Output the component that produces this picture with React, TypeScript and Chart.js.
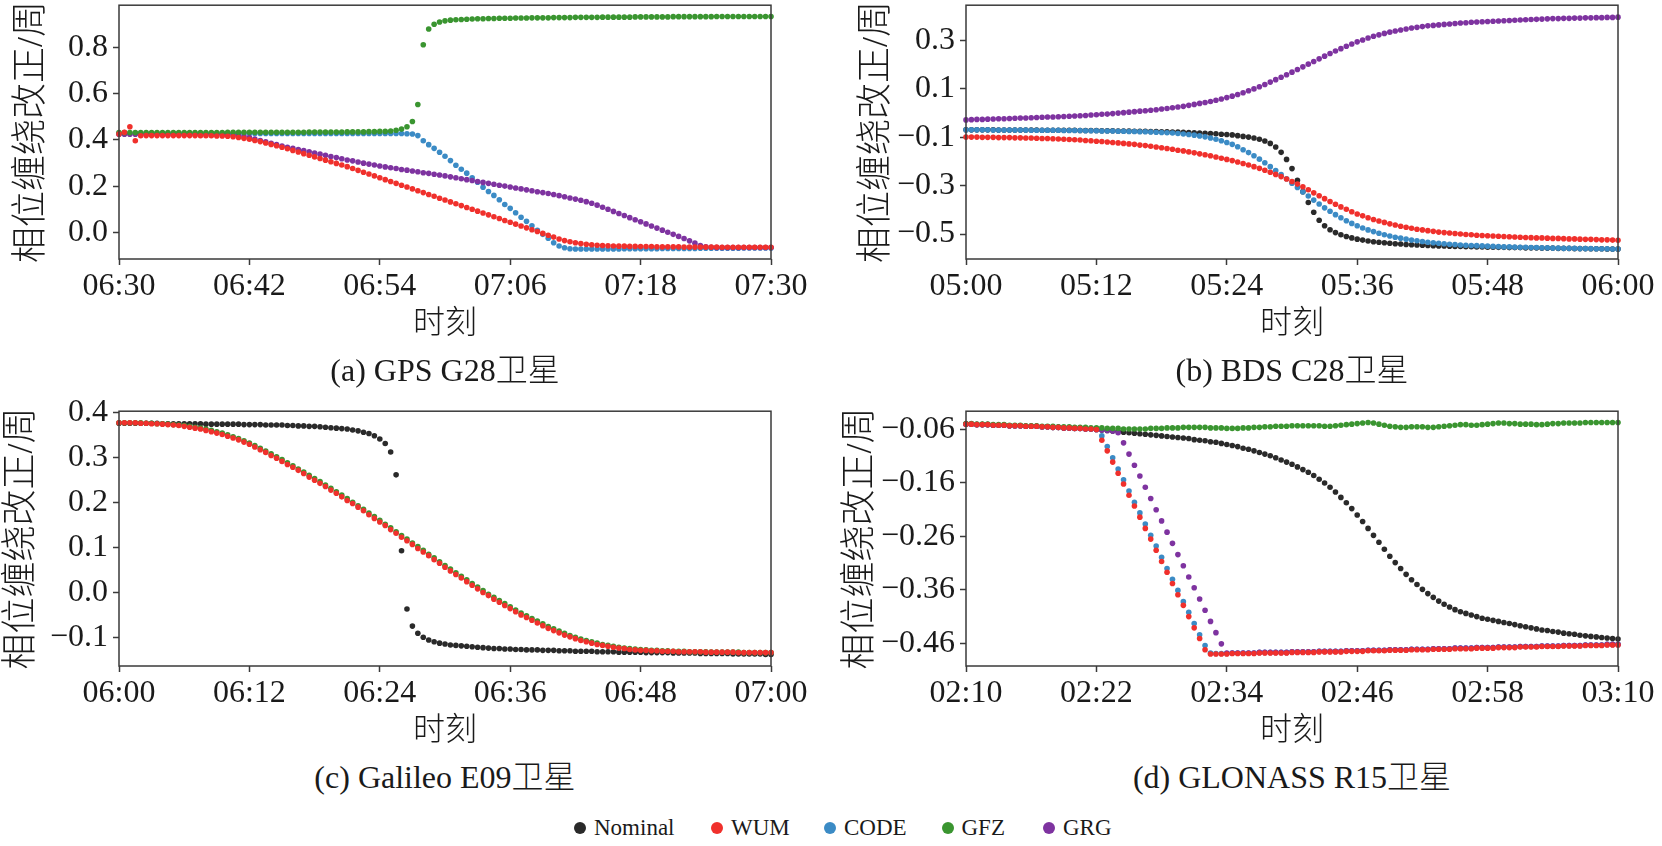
import React, { useEffect, useRef } from "react";
import { Chart, registerables } from "chart.js";

Chart.register(...registerables);

// ---------------- data ----------------
const SERIES = ["Nominal", "WUM", "CODE", "GFZ", "GRG"];
const COLORS = ["#2a2a2a", "#f0302c", "#3b8bc5", "#3a9530", "#7e33a0"];
// lower value = drawn on top
const DRAW_ORDER = [4, 0, 3, 1, 2];
const STEP_MIN = 0.5; // 30 s sampling, x in minutes from panel start

const X_TICKS = [0, 12, 24, 36, 48, 60];
const X_LABELS_A = ["06:30", "06:42", "06:54", "07:06", "07:18", "07:30"];
const X_LABELS_B = ["05:00", "05:12", "05:24", "05:36", "05:48", "06:00"];
const X_LABELS_C = ["06:00", "06:12", "06:24", "06:36", "06:48", "07:00"];
const X_LABELS_D = ["02:10", "02:22", "02:34", "02:46", "02:58", "03:10"];

const Y_TICKS_A = [0.0, 0.2, 0.4, 0.6, 0.8];
const Y_LABELS_A = ["0.0", "0.2", "0.4", "0.6", "0.8"];
const Y_TICKS_B = [-0.5, -0.3, -0.1, 0.1, 0.3];
const Y_LABELS_B = ["\u22120.5", "\u22120.3", "\u22120.1", "0.1", "0.3"];
const Y_TICKS_C = [-0.1, 0.0, 0.1, 0.2, 0.3, 0.4];
const Y_LABELS_C = ["\u22120.1", "0.0", "0.1", "0.2", "0.3", "0.4"];
const Y_TICKS_D = [-0.46, -0.36, -0.26, -0.16, -0.06];
const Y_LABELS_D = ["\u22120.46", "\u22120.36", "\u22120.26", "\u22120.16", "\u22120.06"];

// (a) GPS G28
const A_WUM = [
  0.426, 0.433, 0.457, 0.397, 0.418, 0.419, 0.419, 0.419, 0.419, 0.419,
  0.419, 0.419, 0.419, 0.419, 0.419, 0.418, 0.418, 0.418, 0.417, 0.417,
  0.416, 0.414, 0.411, 0.407, 0.403, 0.398, 0.393, 0.387, 0.381, 0.375,
  0.369, 0.362, 0.355, 0.348, 0.341, 0.334, 0.327, 0.320, 0.313, 0.306,
  0.299, 0.292, 0.285, 0.277, 0.269, 0.261, 0.253, 0.245, 0.237, 0.229,
  0.221, 0.213, 0.205, 0.197, 0.189, 0.181, 0.173, 0.165, 0.157, 0.149,
  0.141, 0.133, 0.125, 0.117, 0.109, 0.101, 0.093, 0.085, 0.077, 0.069,
  0.061, 0.053, 0.045, 0.037, 0.029, 0.021, 0.013, 0.005, -0.003, -0.011,
  -0.019, -0.027, -0.034, -0.039, -0.043, -0.047, -0.050, -0.052, -0.054, -0.055,
  -0.056, -0.057, -0.058, -0.058, -0.059, -0.059, -0.060, -0.060, -0.060, -0.061,
  -0.061, -0.061, -0.061, -0.061, -0.062, -0.062, -0.062, -0.062, -0.062, -0.062,
  -0.062, -0.063, -0.063, -0.063, -0.063, -0.063, -0.063, -0.063, -0.063, -0.063,
  -0.063,
];
const A_CODE = [
  0.428, 0.428, 0.428, 0.428, 0.428, 0.428, 0.428, 0.428, 0.428, 0.428,
  0.428, 0.428, 0.428, 0.428, 0.428, 0.428, 0.428, 0.428, 0.428, 0.428,
  0.428, 0.428, 0.428, 0.428, 0.428, 0.428, 0.428, 0.428, 0.428, 0.428,
  0.428, 0.428, 0.428, 0.428, 0.428, 0.428, 0.428, 0.428, 0.428, 0.428,
  0.428, 0.428, 0.428, 0.428, 0.428, 0.428, 0.428, 0.428, 0.428, 0.428,
  0.428, 0.428, 0.428, 0.427, 0.426, 0.419, 0.397, 0.380, 0.364, 0.347,
  0.330, 0.311, 0.291, 0.274, 0.257, 0.237, 0.218, 0.196, 0.178, 0.161,
  0.142, 0.122, 0.105, 0.086, 0.067, 0.049, 0.030, 0.010, -0.007, -0.024,
  -0.043, -0.057, -0.065, -0.069, -0.070, -0.070, -0.070, -0.070, -0.070, -0.070,
  -0.070, -0.070, -0.070, -0.069, -0.069, -0.069, -0.069, -0.069, -0.069, -0.069,
  -0.068, -0.068, -0.068, -0.068, -0.068, -0.068, -0.068, -0.067, -0.067, -0.067,
  -0.067, -0.067, -0.067, -0.067, -0.067, -0.066, -0.066, -0.066, -0.066, -0.066,
  -0.066,
];
const A_GFZ = [
  0.432, 0.432, 0.432, 0.432, 0.432, 0.432, 0.432, 0.432, 0.432, 0.432,
  0.432, 0.432, 0.432, 0.432, 0.432, 0.432, 0.432, 0.432, 0.432, 0.432,
  0.433, 0.433, 0.433, 0.433, 0.433, 0.433, 0.433, 0.433, 0.433, 0.433,
  0.433, 0.433, 0.433, 0.433, 0.433, 0.434, 0.434, 0.434, 0.434, 0.434,
  0.434, 0.434, 0.435, 0.435, 0.435, 0.435, 0.436, 0.436, 0.437, 0.437,
  0.439, 0.442, 0.447, 0.457, 0.480, 0.553, 0.811, 0.879, 0.899, 0.909,
  0.914, 0.917, 0.919, 0.920, 0.921, 0.922, 0.923, 0.923, 0.924, 0.924,
  0.925, 0.925, 0.925, 0.926, 0.926, 0.926, 0.927, 0.927, 0.927, 0.927,
  0.928, 0.928, 0.928, 0.928, 0.929, 0.929, 0.929, 0.929, 0.929, 0.930,
  0.930, 0.930, 0.930, 0.930, 0.930, 0.931, 0.931, 0.931, 0.931, 0.931,
  0.931, 0.931, 0.932, 0.932, 0.932, 0.932, 0.932, 0.932, 0.932, 0.932,
  0.933, 0.933, 0.933, 0.933, 0.933, 0.933, 0.933, 0.933, 0.933, 0.933,
  0.933,
];
const A_GRG = [
  0.425, 0.425, 0.425, 0.425, 0.425, 0.425, 0.425, 0.425, 0.425, 0.425,
  0.425, 0.425, 0.425, 0.425, 0.425, 0.425, 0.425, 0.425, 0.425, 0.425,
  0.424, 0.422, 0.419, 0.415, 0.410, 0.404, 0.398, 0.392, 0.386, 0.380,
  0.374, 0.369, 0.364, 0.359, 0.354, 0.349, 0.344, 0.339, 0.334, 0.329,
  0.324, 0.319, 0.314, 0.310, 0.305, 0.300, 0.296, 0.292, 0.288, 0.284,
  0.280, 0.277, 0.273, 0.270, 0.266, 0.263, 0.259, 0.256, 0.252, 0.249,
  0.245, 0.241, 0.237, 0.233, 0.229, 0.225, 0.221, 0.217, 0.213, 0.209,
  0.205, 0.201, 0.197, 0.193, 0.189, 0.185, 0.181, 0.177, 0.173, 0.169,
  0.165, 0.160, 0.155, 0.150, 0.145, 0.140, 0.134, 0.127, 0.119, 0.110,
  0.101, 0.092, 0.083, 0.074, 0.065, 0.056, 0.047, 0.038, 0.029, 0.020,
  0.011, 0.002, -0.007, -0.016, -0.025, -0.035, -0.045, -0.055, -0.061, -0.063,
  -0.064, -0.064, -0.064, -0.064, -0.064, -0.064, -0.064, -0.064, -0.064, -0.064,
  -0.064,
];

// (b) BDS C28
const B_NOM = [
  -0.070, -0.070, -0.070, -0.070, -0.070, -0.070, -0.071, -0.071, -0.071, -0.071,
  -0.071, -0.071, -0.071, -0.071, -0.072, -0.072, -0.072, -0.072, -0.072, -0.072,
  -0.072, -0.073, -0.073, -0.073, -0.073, -0.074, -0.074, -0.074, -0.075, -0.075,
  -0.075, -0.076, -0.076, -0.076, -0.077, -0.077, -0.078, -0.078, -0.079, -0.079,
  -0.080, -0.081, -0.082, -0.083, -0.084, -0.085, -0.086, -0.088, -0.089, -0.091,
  -0.094, -0.097, -0.100, -0.104, -0.109, -0.116, -0.126, -0.141, -0.163, -0.192,
  -0.230, -0.278, -0.325, -0.370, -0.410, -0.443, -0.466, -0.482, -0.494, -0.503,
  -0.510, -0.516, -0.521, -0.525, -0.529, -0.532, -0.534, -0.536, -0.538, -0.540,
  -0.541, -0.543, -0.544, -0.545, -0.546, -0.547, -0.548, -0.549, -0.549, -0.550,
  -0.551, -0.551, -0.552, -0.552, -0.553, -0.553, -0.554, -0.554, -0.555, -0.555,
  -0.556, -0.556, -0.556, -0.557, -0.557, -0.557, -0.558, -0.558, -0.558, -0.559,
  -0.559, -0.559, -0.560, -0.560, -0.560, -0.561, -0.561, -0.561, -0.562, -0.562,
  -0.562,
];
const B_WUM = [
  -0.100, -0.100, -0.100, -0.101, -0.101, -0.101, -0.102, -0.102, -0.102, -0.103,
  -0.103, -0.104, -0.104, -0.105, -0.106, -0.106, -0.107, -0.108, -0.109, -0.110,
  -0.111, -0.112, -0.114, -0.115, -0.117, -0.118, -0.120, -0.122, -0.124, -0.126,
  -0.128, -0.130, -0.133, -0.135, -0.138, -0.141, -0.144, -0.147, -0.150, -0.154,
  -0.157, -0.161, -0.165, -0.169, -0.173, -0.177, -0.182, -0.187, -0.192, -0.197,
  -0.203, -0.209, -0.215, -0.222, -0.229, -0.237, -0.245, -0.254, -0.263, -0.273,
  -0.283, -0.294, -0.305, -0.317, -0.330, -0.342, -0.354, -0.366, -0.377, -0.388,
  -0.398, -0.408, -0.417, -0.425, -0.433, -0.440, -0.446, -0.452, -0.458, -0.463,
  -0.468, -0.472, -0.476, -0.480, -0.483, -0.486, -0.489, -0.492, -0.494, -0.496,
  -0.498, -0.500, -0.502, -0.503, -0.505, -0.506, -0.507, -0.508, -0.509, -0.510,
  -0.511, -0.512, -0.513, -0.514, -0.515, -0.516, -0.516, -0.517, -0.518, -0.518,
  -0.519, -0.520, -0.520, -0.521, -0.522, -0.522, -0.523, -0.524, -0.524, -0.525,
  -0.526,
];
const B_CODE = [
  -0.070, -0.070, -0.070, -0.070, -0.070, -0.071, -0.071, -0.071, -0.071, -0.071,
  -0.071, -0.071, -0.072, -0.072, -0.072, -0.072, -0.072, -0.072, -0.073, -0.073,
  -0.073, -0.073, -0.074, -0.074, -0.074, -0.075, -0.075, -0.075, -0.076, -0.076,
  -0.077, -0.077, -0.078, -0.078, -0.079, -0.080, -0.081, -0.082, -0.083, -0.085,
  -0.087, -0.089, -0.092, -0.095, -0.099, -0.104, -0.109, -0.115, -0.122, -0.130,
  -0.140, -0.152, -0.164, -0.177, -0.191, -0.206, -0.222, -0.238, -0.255, -0.272,
  -0.290, -0.308, -0.326, -0.343, -0.360, -0.376, -0.392, -0.406, -0.420, -0.433,
  -0.445, -0.456, -0.466, -0.475, -0.483, -0.490, -0.497, -0.503, -0.508, -0.513,
  -0.517, -0.521, -0.525, -0.528, -0.531, -0.534, -0.536, -0.538, -0.540, -0.542,
  -0.543, -0.545, -0.546, -0.547, -0.548, -0.549, -0.550, -0.551, -0.552, -0.553,
  -0.553, -0.554, -0.555, -0.555, -0.556, -0.556, -0.557, -0.557, -0.558, -0.558,
  -0.559, -0.559, -0.559, -0.560, -0.560, -0.560, -0.561, -0.561, -0.561, -0.562,
  -0.562,
];
const B_GRG = [
  -0.029, -0.028, -0.027, -0.027, -0.026, -0.025, -0.024, -0.024, -0.023, -0.022,
  -0.021, -0.021, -0.020, -0.019, -0.018, -0.017, -0.017, -0.016, -0.015, -0.014,
  -0.013, -0.012, -0.011, -0.009, -0.008, -0.006, -0.005, -0.003, -0.001, 0.001,
  0.003, 0.005, 0.007, 0.009, 0.011, 0.013, 0.016, 0.018, 0.021, 0.024,
  0.027, 0.031, 0.035, 0.039, 0.043, 0.047, 0.052, 0.057, 0.063, 0.069,
  0.076, 0.083, 0.091, 0.099, 0.108, 0.117, 0.127, 0.137, 0.147, 0.157,
  0.168, 0.179, 0.190, 0.201, 0.212, 0.223, 0.234, 0.245, 0.255, 0.265,
  0.275, 0.284, 0.293, 0.301, 0.309, 0.316, 0.322, 0.328, 0.333, 0.338,
  0.342, 0.346, 0.350, 0.353, 0.356, 0.359, 0.361, 0.363, 0.365, 0.367,
  0.369, 0.371, 0.372, 0.374, 0.375, 0.376, 0.377, 0.378, 0.379, 0.380,
  0.381, 0.382, 0.383, 0.384, 0.385, 0.386, 0.387, 0.388, 0.389, 0.389,
  0.390, 0.390, 0.391, 0.391, 0.392, 0.392, 0.393, 0.393, 0.394, 0.394,
  0.395,
];

// (c) Galileo E09
const C_NOM = [
  0.377, 0.377, 0.377, 0.377, 0.377, 0.377, 0.377, 0.377, 0.376, 0.376,
  0.376, 0.376, 0.376, 0.376, 0.376, 0.376, 0.375, 0.375, 0.375, 0.375,
  0.375, 0.375, 0.375, 0.374, 0.374, 0.374, 0.374, 0.373, 0.373, 0.373,
  0.373, 0.372, 0.372, 0.371, 0.371, 0.370, 0.370, 0.369, 0.368, 0.367,
  0.366, 0.365, 0.364, 0.362, 0.360, 0.357, 0.354, 0.349, 0.342, 0.332,
  0.313, 0.262, 0.093, -0.037, -0.075, -0.091, -0.100, -0.106, -0.110, -0.113,
  -0.115, -0.117, -0.118, -0.119, -0.120, -0.121, -0.122, -0.123, -0.124, -0.125,
  -0.125, -0.126, -0.126, -0.127, -0.127, -0.128, -0.128, -0.128, -0.129, -0.129,
  -0.129, -0.130, -0.130, -0.130, -0.131, -0.131, -0.131, -0.131, -0.132, -0.132,
  -0.132, -0.132, -0.133, -0.133, -0.133, -0.133, -0.133, -0.134, -0.134, -0.134,
  -0.134, -0.134, -0.135, -0.135, -0.135, -0.135, -0.135, -0.136, -0.136, -0.136,
  -0.136, -0.136, -0.136, -0.137, -0.137, -0.137, -0.137, -0.137, -0.137, -0.138,
  -0.138,
];
const C_WUM = [
  0.378, 0.378, 0.378, 0.378, 0.377, 0.377, 0.376, 0.376, 0.375, 0.374,
  0.373, 0.372, 0.370, 0.368, 0.366, 0.364, 0.361, 0.358, 0.355, 0.352,
  0.348, 0.344, 0.340, 0.335, 0.330, 0.324, 0.318, 0.312, 0.305, 0.299,
  0.292, 0.285, 0.279, 0.272, 0.265, 0.257, 0.250, 0.243, 0.236, 0.228,
  0.221, 0.213, 0.205, 0.198, 0.190, 0.182, 0.173, 0.165, 0.157, 0.149,
  0.140, 0.132, 0.123, 0.115, 0.107, 0.098, 0.090, 0.082, 0.073, 0.065,
  0.056, 0.048, 0.040, 0.032, 0.024, 0.016, 0.008, 0.000, -0.007, -0.015,
  -0.022, -0.029, -0.036, -0.043, -0.050, -0.056, -0.062, -0.068, -0.074, -0.080,
  -0.085, -0.090, -0.095, -0.099, -0.103, -0.107, -0.110, -0.113, -0.116, -0.118,
  -0.120, -0.122, -0.124, -0.125, -0.127, -0.128, -0.129, -0.129, -0.130, -0.130,
  -0.131, -0.131, -0.131, -0.132, -0.132, -0.132, -0.132, -0.132, -0.133, -0.133,
  -0.133, -0.133, -0.133, -0.133, -0.134, -0.134, -0.134, -0.134, -0.134, -0.134,
  -0.134,
];
const C_GFZ = [
  0.378, 0.378, 0.378, 0.378, 0.378, 0.377, 0.377, 0.376, 0.376, 0.375,
  0.374, 0.373, 0.372, 0.370, 0.368, 0.366, 0.364, 0.361, 0.358, 0.355,
  0.351, 0.347, 0.343, 0.338, 0.333, 0.327, 0.321, 0.315, 0.309, 0.302,
  0.296, 0.289, 0.282, 0.275, 0.268, 0.261, 0.254, 0.247, 0.239, 0.232,
  0.224, 0.217, 0.209, 0.201, 0.193, 0.185, 0.177, 0.169, 0.161, 0.152,
  0.144, 0.135, 0.127, 0.119, 0.110, 0.102, 0.094, 0.085, 0.077, 0.068,
  0.060, 0.052, 0.044, 0.036, 0.028, 0.020, 0.012, 0.004, -0.004, -0.011,
  -0.018, -0.025, -0.032, -0.039, -0.046, -0.052, -0.058, -0.064, -0.070, -0.076,
  -0.081, -0.086, -0.091, -0.096, -0.100, -0.104, -0.107, -0.110, -0.113, -0.116,
  -0.118, -0.120, -0.122, -0.124, -0.125, -0.126, -0.127, -0.128, -0.129, -0.129,
  -0.130, -0.130, -0.131, -0.131, -0.131, -0.132, -0.132, -0.132, -0.132, -0.133,
  -0.133, -0.133, -0.133, -0.133, -0.133, -0.134, -0.134, -0.134, -0.134, -0.134,
  -0.134,
];

// (d) GLONASS R15
const D_NOM = [
  -0.050, -0.050, -0.051, -0.051, -0.051, -0.052, -0.052, -0.052, -0.053, -0.053,
  -0.053, -0.054, -0.054, -0.054, -0.055, -0.055, -0.056, -0.056, -0.057, -0.057,
  -0.058, -0.058, -0.059, -0.059, -0.060, -0.061, -0.062, -0.063, -0.064, -0.065,
  -0.066, -0.067, -0.068, -0.069, -0.070, -0.071, -0.072, -0.073, -0.074, -0.075,
  -0.076, -0.077, -0.079, -0.080, -0.081, -0.083, -0.084, -0.086, -0.088, -0.090,
  -0.092, -0.095, -0.097, -0.100, -0.103, -0.106, -0.109, -0.113, -0.117, -0.121,
  -0.125, -0.130, -0.135, -0.140, -0.146, -0.153, -0.160, -0.168, -0.177, -0.187,
  -0.197, -0.208, -0.220, -0.232, -0.245, -0.258, -0.271, -0.284, -0.297, -0.309,
  -0.320, -0.331, -0.341, -0.350, -0.359, -0.367, -0.374, -0.381, -0.387, -0.392,
  -0.397, -0.401, -0.404, -0.407, -0.410, -0.413, -0.415, -0.417, -0.419, -0.421,
  -0.423, -0.425, -0.427, -0.429, -0.431, -0.433, -0.435, -0.436, -0.438, -0.439,
  -0.441, -0.442, -0.443, -0.445, -0.446, -0.447, -0.448, -0.449, -0.450, -0.451,
  -0.452,
];
const D_WUM = [
  -0.050, -0.050, -0.051, -0.051, -0.051, -0.052, -0.052, -0.052, -0.053, -0.053,
  -0.053, -0.054, -0.054, -0.054, -0.055, -0.055, -0.056, -0.056, -0.057, -0.057,
  -0.058, -0.058, -0.059, -0.059, -0.060, -0.080, -0.100, -0.121, -0.142, -0.162,
  -0.183, -0.203, -0.224, -0.245, -0.265, -0.286, -0.307, -0.327, -0.348, -0.369,
  -0.389, -0.410, -0.431, -0.451, -0.472, -0.480, -0.480, -0.480, -0.480, -0.479,
  -0.479, -0.479, -0.479, -0.479, -0.478, -0.478, -0.478, -0.478, -0.478, -0.478,
  -0.477, -0.477, -0.477, -0.477, -0.477, -0.476, -0.476, -0.476, -0.476, -0.476,
  -0.475, -0.475, -0.475, -0.475, -0.474, -0.474, -0.474, -0.474, -0.473, -0.473,
  -0.473, -0.473, -0.472, -0.472, -0.472, -0.472, -0.471, -0.471, -0.471, -0.471,
  -0.470, -0.470, -0.470, -0.470, -0.469, -0.469, -0.469, -0.469, -0.468, -0.468,
  -0.468, -0.468, -0.467, -0.467, -0.467, -0.467, -0.466, -0.466, -0.466, -0.466,
  -0.465, -0.465, -0.465, -0.465, -0.464, -0.464, -0.464, -0.464, -0.463, -0.463,
  -0.463,
];
const D_CODE = [
  -0.050, -0.050, -0.051, -0.051, -0.051, -0.052, -0.052, -0.052, -0.053, -0.053,
  -0.053, -0.054, -0.054, -0.054, -0.055, -0.055, -0.056, -0.056, -0.057, -0.057,
  -0.058, -0.058, -0.059, -0.059, -0.060, -0.072, -0.092, -0.113, -0.134, -0.154,
  -0.175, -0.196, -0.216, -0.237, -0.258, -0.278, -0.299, -0.320, -0.340, -0.361,
  -0.382, -0.402, -0.423, -0.444, -0.464, -0.478, -0.479, -0.479, -0.479, -0.478,
  -0.478, -0.478, -0.478, -0.478, -0.477, -0.477, -0.477, -0.477, -0.477, -0.477,
  -0.476, -0.476, -0.476, -0.476, -0.476, -0.475, -0.475, -0.475, -0.475, -0.475,
  -0.474, -0.474, -0.474, -0.474, -0.473, -0.473, -0.473, -0.473, -0.472, -0.472,
  -0.472, -0.472, -0.471, -0.471, -0.471, -0.471, -0.470, -0.470, -0.470, -0.470,
  -0.469, -0.469, -0.469, -0.469, -0.468, -0.468, -0.468, -0.468, -0.467, -0.467,
  -0.467, -0.467, -0.466, -0.466, -0.466, -0.466, -0.465, -0.465, -0.465, -0.465,
  -0.464, -0.464, -0.464, -0.464, -0.463, -0.463, -0.463, -0.463, -0.462, -0.462,
  -0.462,
];
const D_GFZ = [
  -0.049, -0.049, -0.050, -0.050, -0.050, -0.051, -0.051, -0.051, -0.052, -0.052,
  -0.052, -0.053, -0.053, -0.053, -0.054, -0.054, -0.054, -0.055, -0.055, -0.055,
  -0.056, -0.056, -0.056, -0.057, -0.057, -0.057, -0.058, -0.058, -0.058, -0.059,
  -0.059, -0.059, -0.059, -0.059, -0.058, -0.058, -0.058, -0.057, -0.057, -0.057,
  -0.056, -0.056, -0.056, -0.056, -0.056, -0.057, -0.057, -0.057, -0.058, -0.058,
  -0.058, -0.057, -0.057, -0.056, -0.056, -0.055, -0.055, -0.054, -0.054, -0.054,
  -0.053, -0.053, -0.053, -0.053, -0.053, -0.053, -0.054, -0.054, -0.053, -0.052,
  -0.051, -0.050, -0.049, -0.048, -0.047, -0.048, -0.050, -0.052, -0.054, -0.055,
  -0.056, -0.056, -0.055, -0.055, -0.055, -0.056, -0.056, -0.055, -0.054, -0.053,
  -0.052, -0.051, -0.051, -0.052, -0.052, -0.051, -0.050, -0.049, -0.048, -0.048,
  -0.049, -0.049, -0.050, -0.050, -0.050, -0.051, -0.051, -0.050, -0.049, -0.049,
  -0.048, -0.048, -0.048, -0.048, -0.047, -0.047, -0.047, -0.047, -0.047, -0.047,
  -0.047,
];
const D_GRG = [
  -0.050, -0.050, -0.051, -0.051, -0.051, -0.052, -0.052, -0.052, -0.053, -0.053,
  -0.053, -0.054, -0.054, -0.054, -0.055, -0.055, -0.056, -0.056, -0.057, -0.057,
  -0.058, -0.058, -0.059, -0.059, -0.060, -0.061, -0.062, -0.063, -0.066, -0.085,
  -0.106, -0.127, -0.147, -0.168, -0.189, -0.210, -0.231, -0.252, -0.273, -0.294,
  -0.315, -0.336, -0.356, -0.377, -0.398, -0.419, -0.440, -0.461, -0.478, -0.478,
  -0.478, -0.478, -0.478, -0.478, -0.477, -0.477, -0.477, -0.477, -0.477, -0.477,
  -0.476, -0.476, -0.476, -0.476, -0.476, -0.475, -0.475, -0.475, -0.475, -0.475,
  -0.474, -0.474, -0.474, -0.474, -0.473, -0.473, -0.473, -0.473, -0.472, -0.472,
  -0.472, -0.472, -0.471, -0.471, -0.471, -0.471, -0.470, -0.470, -0.470, -0.470,
  -0.469, -0.469, -0.469, -0.469, -0.468, -0.468, -0.468, -0.468, -0.467, -0.467,
  -0.467, -0.467, -0.466, -0.466, -0.466, -0.466, -0.465, -0.465, -0.465, -0.465,
  -0.464, -0.464, -0.464, -0.464, -0.463, -0.463, -0.463, -0.463, -0.462, -0.462,
  -0.462,
];

// ---------------- styling / layout ----------------
const LATIN = "'Liberation Serif', 'Noto Sans CJK SC Light', 'Noto Sans CJK SC', serif";
const TEXT_COLOR = "#1a1a1a";
const AXIS_COLOR = "#3a3a3a";
const Y_TITLE = "相位缠绕改正/周";
const X_TITLE = "时刻";
const PAD_TOP = 24;
const PAD_RIGHT = 44;
const X_AXIS_H = 90;
const PLOT_W = 652;

type PanelDef = {
  data: (number[] | null)[];
  xLabels: string[];
  yTicks: number[];
  yLabels: string[];
  yMin: number;
  yMax: number;
  caption: string;
  left: number; // canvas left
  yAxisW: number;
  plotTop: number;
  plotH: number;
  yTitlePad: number;
};

const PANELS: PanelDef[] = [
  {
    data: [null, A_WUM, A_CODE, A_GFZ, A_GRG],
    xLabels: X_LABELS_A, yTicks: Y_TICKS_A, yLabels: Y_LABELS_A,
    yMin: -0.1134, yMax: 0.9815, caption: "(a) GPS G28卫星",
    left: 0, yAxisW: 119, plotTop: 5, plotH: 254, yTitlePad: 11.4,
  },
  {
    data: [B_NOM, B_WUM, B_CODE, null, B_GRG],
    xLabels: X_LABELS_B, yTicks: Y_TICKS_B, yLabels: Y_LABELS_B,
    yMin: -0.603, yMax: 0.4443, caption: "(b) BDS C28卫星",
    left: 847, yAxisW: 119, plotTop: 5, plotH: 254, yTitlePad: 9.4,
  },
  {
    data: [C_NOM, C_WUM, null, C_GFZ, null],
    xLabels: X_LABELS_C, yTicks: Y_TICKS_C, yLabels: Y_LABELS_C,
    yMin: -0.1639, yMax: 0.4038, caption: "(c) Galileo E09卫星",
    left: 0, yAxisW: 119, plotTop: 411, plotH: 255, yTitlePad: 1.4,
  },
  {
    data: [D_NOM, D_WUM, D_CODE, D_GFZ, D_GRG],
    xLabels: X_LABELS_D, yTicks: Y_TICKS_D, yLabels: Y_LABELS_D,
    yMin: -0.5024, yMax: -0.0258, caption: "(d) GLONASS R15卫星",
    left: 836, yAxisW: 130, plotTop: 411, plotH: 255, yTitlePad: 4.4,
  },
];

const framePlugin = {
  id: "frame",
  afterDraw(chart: any) {
    const { ctx, chartArea: a } = chart;
    ctx.save();
    ctx.strokeStyle = AXIS_COLOR;
    ctx.lineWidth = 1.5;
    ctx.strokeRect(a.left, a.top, a.right - a.left, a.bottom - a.top);
    ctx.restore();
  },
};

function Panel({ p }: { p: PanelDef }) {
  const ref = useRef<HTMLCanvasElement>(null);
  const w = p.yAxisW + PLOT_W + PAD_RIGHT;
  const h = PAD_TOP + p.plotH + X_AXIS_H;

  useEffect(() => {
    const canvas = ref.current;
    if (!canvas) return;
    const datasets = SERIES.map((name, s) => ({
      label: name,
      data: (p.data[s] || []).map((v, i) => ({ x: i * STEP_MIN, y: v })),
      backgroundColor: COLORS[s],
      borderColor: COLORS[s],
      borderWidth: 0,
      pointRadius: 2.8,
      pointHoverRadius: 2.8,
      order: DRAW_ORDER[s],
      clip: false as any,
    }));
    const tickFont = { family: LATIN, size: 32 };
    const chart = new Chart(canvas, {
      type: "scatter",
      data: { datasets },
      plugins: [framePlugin],
      options: {
        responsive: false,
        animation: false,
        events: [],
        layout: { padding: { top: PAD_TOP, right: PAD_RIGHT, left: 0, bottom: 0 } },
        plugins: { legend: { display: false }, tooltip: { enabled: false }, title: { display: false } },
        scales: {
          x: {
            type: "linear",
            min: 0,
            max: 60,
            afterBuildTicks: (sc: any) => {
              sc.ticks = X_TICKS.map((v) => ({ value: v }));
            },
            afterFit: (sc: any) => {
              sc.height = X_AXIS_H;
            },
            ticks: {
              autoSkip: false,
              maxRotation: 0,
              padding: 2,
              color: TEXT_COLOR,
              font: tickFont,
              callback: (_v: any, i: number) => p.xLabels[i],
            },
            grid: { drawOnChartArea: false, drawTicks: true, tickLength: 6, tickWidth: 1.5, tickColor: AXIS_COLOR, color: AXIS_COLOR },
            border: { display: false },
            title: {
              display: true,
              text: X_TITLE,
              color: TEXT_COLOR,
              font: { family: LATIN, size: 32 },
              padding: { top: 0, bottom: 4.8 },
            },
          },
          y: {
            type: "linear",
            min: p.yMin,
            max: p.yMax,
            afterBuildTicks: (sc: any) => {
              sc.ticks = p.yTicks.map((v) => ({ value: v }));
            },
            afterFit: (sc: any) => {
              sc.width = p.yAxisW;
            },
            ticks: {
              autoSkip: false,
              padding: 5,
              color: TEXT_COLOR,
              font: tickFont,
              callback: (_v: any, i: number) => p.yLabels[i],
            },
            grid: { drawOnChartArea: false, drawTicks: true, tickLength: 6, tickWidth: 1.5, tickColor: AXIS_COLOR, color: AXIS_COLOR },
            border: { display: false },
            title: {
              display: true,
              text: Y_TITLE,
              color: TEXT_COLOR,
              font: { family: LATIN, size: 36 },
              padding: { top: p.yTitlePad, bottom: 0 },
            },
          },
        },
      } as any,
    });
    return () => chart.destroy();
  }, [p]);

  return (
    <canvas
      ref={ref}
      width={w}
      height={h}
      style={{ position: "absolute", left: p.left, top: p.plotTop - PAD_TOP, width: w, height: h }}
    />
  );
}

function Caption({ p }: { p: PanelDef }) {
  const cx = p.left + p.yAxisW + PLOT_W / 2;
  const cy = p.plotTop + p.plotH + 111;
  return (
    <div
      style={{
        position: "absolute",
        left: cx - 300,
        top: cy - 20,
        width: 600,
        height: 40,
        lineHeight: "40px",
        textAlign: "center",
        fontFamily: LATIN,
        fontSize: 32,
        color: TEXT_COLOR,
        whiteSpace: "nowrap",
      }}
    >
      {p.caption}
    </div>
  );
}

const LEGEND_X = [580, 717, 830, 947.5, 1049];
const LEGEND_Y = 828;

function Legend() {
  return (
    <>
      {SERIES.map((name, s) => (
        <React.Fragment key={name}>
          <div
            style={{
              position: "absolute",
              left: LEGEND_X[s] - 6,
              top: LEGEND_Y - 6,
              width: 12,
              height: 12,
              borderRadius: "50%",
              background: COLORS[s],
            }}
          />
          <div
            style={{
              position: "absolute",
              left: LEGEND_X[s] + 14,
              top: LEGEND_Y - 15,
              height: 30,
              lineHeight: "30px",
              fontFamily: LATIN,
              fontSize: 23,
              color: TEXT_COLOR,
              whiteSpace: "nowrap",
            }}
          >
            {name}
          </div>
        </React.Fragment>
      ))}
    </>
  );
}

export default function App() {
  return (
    <div
      style={{
        position: "fixed",
        left: 0,
        top: 0,
        width: 1662,
        height: 846,
        background: "#ffffff",
        overflow: "hidden",
      }}
    >
      {PANELS.map((p, i) => (
        <Panel key={i} p={p} />
      ))}
      {PANELS.map((p, i) => (
        <Caption key={"c" + i} p={p} />
      ))}
      <Legend />
    </div>
  );
}
